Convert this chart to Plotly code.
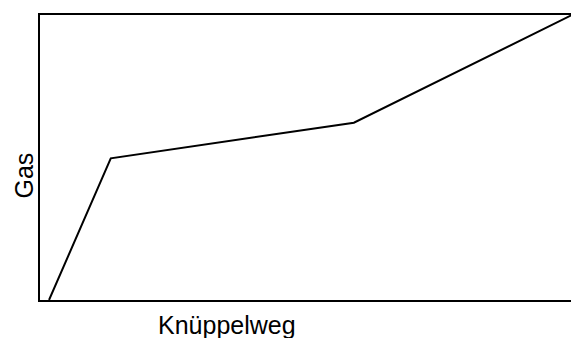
import plotly.graph_objects as go

knueppelweg = [0.017, 0.133, 0.59, 1.0]
gas = [0.0, 0.497, 0.622, 1.0]

x_label = "Knüppelweg"
y_label = "Gas"

# The page body adds an 8px margin, so the figure is sized 8px smaller
fig = go.Figure()
fig.add_trace(go.Scatter(x=knueppelweg, y=gas, mode="lines",
                         line=dict(color="black", width=2), hoverinfo="skip"))

axis_common = dict(showgrid=False, zeroline=False, showticklabels=False, ticks="",
                   showline=True, linecolor="black", linewidth=2, mirror=True,
                   range=[0, 1], fixedrange=True)
fig.update_xaxes(**axis_common)
fig.update_yaxes(**axis_common)

font = dict(family="Liberation Sans, Arial, Helvetica, sans-serif", size=25, color="black")
fig.add_annotation(text=x_label, xref="paper", yref="paper", x=0.352, y=-0.0874,
                   xanchor="center", yanchor="middle", showarrow=False, font=font)
fig.add_annotation(text=y_label, xref="paper", yref="paper", x=-0.030, y=0.437,
                   xanchor="center", yanchor="middle", showarrow=False, textangle=-90,
                   font=font)

fig.update_layout(width=571, height=330, margin=dict(l=32, r=5, t=6, b=38),
                  plot_bgcolor="white", paper_bgcolor="white", showlegend=False)

fig.write_html("out.html")
